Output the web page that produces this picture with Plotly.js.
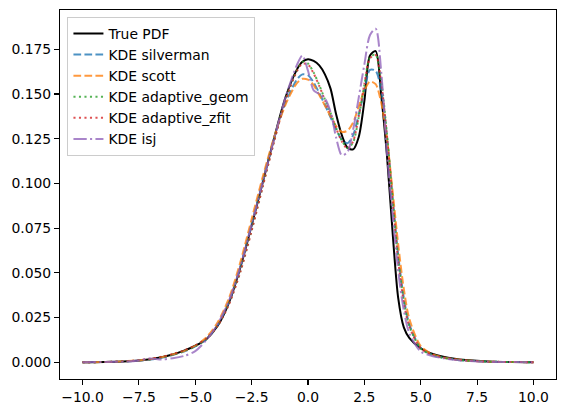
<!DOCTYPE html>
<html>
<head>
<meta charset="utf-8">
<script src="https://cdn.plot.ly/plotly-3.0.1.min.js"></script>
<style>html,body{margin:0;padding:0;background:#fff;}#chart{width:565px;height:413px;}</style>
</head>
<body>
<div id="chart"></div>
<script>
const xGrid = [-10,-9,-8,-7.5,-7,-6.5,-6,-5.5,-5,-4.5,-4,-3.5,-3,-2.5,-2,-1.5,-1,-0.5,-0.25,0,0.25,0.5,0.75,1,1.25,1.5,1.75,2,2.25,2.5,2.75,3,3.25,3.5,3.75,4,4.25,4.5,5,5.5,6,6.5,7,8,9,10];

const truePdf = [0.0000,0.0001,0.0005,0.0010,0.0017,0.0028,0.0043,0.0065,0.0092,0.0130,0.0205,0.0335,0.0530,0.0765,0.1010,0.1255,0.1480,0.1635,0.1680,0.1695,0.1685,0.1660,0.1610,0.1530,0.1385,0.1270,0.1200,0.1190,0.1260,0.1460,0.1715,0.1740,0.1490,0.1160,0.0730,0.0360,0.0195,0.0135,0.0078,0.0048,0.0030,0.0019,0.0012,0.0004,0.0001,0.0000];

const kdeSilverman = [0.0000,0.0001,0.0005,0.0009,0.0015,0.0025,0.0040,0.0060,0.0088,0.0130,0.0210,0.0340,0.0535,0.0775,0.1020,0.1255,0.1450,0.1580,0.1610,0.1605,0.1565,0.1505,0.1440,0.1370,0.1300,0.1245,0.1225,0.1270,0.1385,0.1520,0.1635,0.1630,0.1520,0.1260,0.0920,0.0600,0.0360,0.0210,0.0080,0.0042,0.0025,0.0015,0.0009,0.0003,0.0001,0.0000];

const kdeScott = [0.0000,0.0001,0.0006,0.0010,0.0017,0.0028,0.0043,0.0062,0.0092,0.0140,0.0225,0.0360,0.0560,0.0800,0.1040,0.1260,0.1440,0.1560,0.1585,0.1580,0.1550,0.1495,0.1435,0.1375,0.1320,0.1288,0.1295,0.1340,0.1430,0.1520,0.1570,0.1555,0.1450,0.1250,0.0960,0.0660,0.0410,0.0240,0.0090,0.0045,0.0027,0.0016,0.0010,0.0003,0.0001,0.0000];

const kdeAdaptiveGeom = [0.0000,0.0001,0.0005,0.0010,0.0016,0.0027,0.0042,0.0063,0.0090,0.0130,0.0205,0.0330,0.0510,0.0740,0.0990,0.1240,0.1470,0.1630,0.1680,0.1670,0.1620,0.1550,0.1470,0.1395,0.1310,0.1240,0.1198,0.1230,0.1370,0.1550,0.1705,0.1720,0.1570,0.1280,0.0920,0.0580,0.0340,0.0200,0.0076,0.0040,0.0024,0.0015,0.0009,0.0003,0.0001,0.0000];

const kdeAdaptiveZfit = [0.0000,0.0001,0.0006,0.0011,0.0019,0.0030,0.0045,0.0066,0.0094,0.0132,0.0205,0.0325,0.0505,0.0735,0.0985,0.1235,0.1465,0.1625,0.1670,0.1665,0.1615,0.1545,0.1465,0.1390,0.1308,0.1235,0.1195,0.1235,0.1375,0.1555,0.1700,0.1718,0.1560,0.1270,0.0910,0.0570,0.0335,0.0198,0.0077,0.0041,0.0025,0.0015,0.0009,0.0003,0.0001,0.0000];

const kdeIsj = [0.0000,0.0001,0.0004,0.0010,0.0021,0.0015,0.0022,0.0035,0.0062,0.0125,0.0215,0.0345,0.0535,0.0770,0.1010,0.1250,0.1480,0.1660,0.1715,0.1630,0.1520,0.1500,0.1475,0.1400,0.1255,0.1158,0.1175,0.1300,0.1480,0.1665,0.1830,0.1865,0.1620,0.1170,0.0830,0.0510,0.0290,0.0160,0.0060,0.0035,0.0022,0.0013,0.0008,0.0002,0.0001,0.0000];

const seriesNames = ['True PDF','KDE silverman','KDE scott','KDE adaptive_geom','KDE adaptive_zfit','KDE isj'];
const seriesValues = [truePdf,kdeSilverman,kdeScott,kdeAdaptiveGeom,kdeAdaptiveZfit,kdeIsj];
const seriesColors = ['#000000','rgba(31,119,180,0.8)','rgba(255,127,14,0.8)','rgba(44,160,44,0.8)','rgba(214,39,40,0.8)','rgba(148,103,189,0.8)'];
const seriesDash = ['solid','7.7px,3.3px','7.7px,3.3px','2.1px,3.4px','2.1px,3.4px','13.3px,3.3px,2.1px,3.3px'];

const xTickVals = [-10,-7.5,-5,-2.5,0,2.5,5,7.5,10];
const xTickText = ['\u221210.0','\u22127.5','\u22125.0','\u22122.5','0.0','2.5','5.0','7.5','10.0'];
const yTickVals = [0,0.025,0.05,0.075,0.1,0.125,0.15,0.175];
const yTickText = ['0.000','0.025','0.050','0.075','0.100','0.125','0.150','0.175'];

const traces = seriesNames.map((n,i)=>({
  type:'scatter', mode:'lines', name:n, x:xGrid, y:seriesValues[i],
  line:{color:seriesColors[i], width:2, dash:seriesDash[i], shape:'spline', smoothing:0.8}
}));

const font = {family:'DejaVu Sans, sans-serif', size:13.9, color:'#000'};
const layout = {
  width:565, height:413,
  margin:{l:60,r:9,t:10,b:34,pad:0},
  paper_bgcolor:'#fff', plot_bgcolor:'#fff',
  font:font,
  showlegend:true,
  legend:{x:0.015,y:0.981,xanchor:'left',yanchor:'top',bgcolor:'rgba(255,255,255,0.8)',bordercolor:'#cccccc',borderwidth:1,font:font,tracegroupgap:0},
  xaxis:{range:[-11,11],showgrid:false,zeroline:false,showline:true,mirror:true,linecolor:'#000',linewidth:1.1,
    ticks:'outside',ticklen:4.9,tickwidth:1.1,tickcolor:'#000',tickvals:xTickVals,ticktext:xTickText,tickfont:font},
  yaxis:{range:[-0.0094,0.197],showgrid:false,zeroline:false,showline:true,mirror:true,linecolor:'#000',linewidth:1.1,
    ticks:'outside',ticklen:4.9,tickwidth:1.1,tickcolor:'#000',tickvals:yTickVals,ticktext:yTickText,tickfont:font}
};
Plotly.newPlot('chart',traces,layout,{displayModeBar:false,staticPlot:true});
</script>
</body>
</html>
